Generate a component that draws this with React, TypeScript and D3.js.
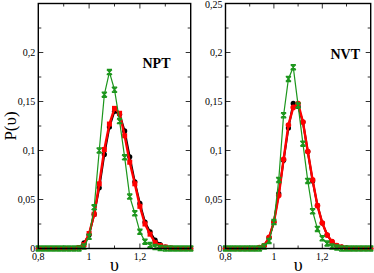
import React from 'react';
import * as d3 from 'd3';

// volume bins (nu)
const nu = [0.80, 0.82, 0.84, 0.86, 0.88, 0.90, 0.92, 0.94, 0.96, 0.98, 1.00, 1.02, 1.04, 1.06, 1.08, 1.10,
  1.12, 1.14, 1.16, 1.18, 1.20, 1.22, 1.24, 1.26, 1.28, 1.30, 1.32, 1.34, 1.36, 1.38, 1.40];

// NPT panel
const nptBlack = [0, 0, 0, 0, 0, 0, 0, 0, 0.001, 0.0057, 0.014, 0.035, 0.062, 0.096, 0.124, 0.140,
  0.137, 0.120, 0.0935, 0.068, 0.046, 0.027, 0.017, 0.0085, 0.004, 0.0015, 0.0005, 0, 0, 0, 0];
const nptRed = [0, 0, 0, 0, 0, 0, 0, 0, 0.001, 0.004, 0.0153, 0.035, 0.066, 0.101, 0.127, 0.143,
  0.138, 0.115, 0.088, 0.066, 0.043, 0.025, 0.0146, 0.006, 0.003, 0.0015, 0.0005, 0, 0, 0, 0];
const nptGreen = [0, 0, 0, 0, 0, 0, 0, 0, 0, 0.002, 0.012, 0.042, 0.100, 0.157, 0.180, 0.162,
  0.130, 0.093, 0.053, 0.036, 0.017, 0.007, 0.0035, 0.0015, 0.0005, 0, 0, 0, 0, 0, 0];

// NVT panel
const nvtBlack = [0, 0, 0, 0, 0, 0, 0, 0.001, 0.003, 0.011, 0.027, 0.056, 0.090, 0.123, 0.148, 0.145,
  0.129, 0.099, 0.069, 0.044, 0.026, 0.0138, 0.007, 0.003, 0.0015, 0.0005, 0, 0, 0, 0, 0];
const nvtRed = [0, 0, 0, 0, 0, 0, 0, 0.001, 0.003, 0.0114, 0.027, 0.054, 0.091, 0.126, 0.144, 0.148,
  0.129, 0.099, 0.070, 0.0437, 0.026, 0.0138, 0.007, 0.003, 0.0015, 0.0005, 0, 0, 0, 0, 0];
const nvtGreen = [0, 0, 0, 0, 0, 0, 0, 0, 0.002, 0.0077, 0.027, 0.070, 0.136, 0.173, 0.185, 0.146,
  0.107, 0.069, 0.038, 0.020, 0.0104, 0.005, 0.002, 0.001, 0, 0, 0, 0, 0, 0, 0];

const yMajor = [0, 0.05, 0.1, 0.15, 0.2, 0.25];
const yMinor = [0.025, 0.075, 0.125, 0.175, 0.225];
const xMajor = [0.8, 1.0, 1.2, 1.4];
const xMinor = [0.9, 1.1, 1.3];
const xLabels = [0.8, 1.0, 1.2];

const GREEN = '#1c961c';
const fmt = (v: number) => String(+v.toFixed(2)).replace('.', ',');

function Star({ x, y }: { x: number; y: number }) {
  const s = 2.6;
  return (
    <path
      d={`M${x - s},${y - s}L${x + s},${y + s}M${x + s},${y - s}L${x - s},${y + s}M${x - s},${y - s}L${x + s},${y - s}M${x - s},${y + s}L${x + s},${y + s}M${x},${y - s}L${x},${y + s}`}
      stroke={GREEN} strokeWidth={1.3} fill="none" />
  );
}

function Panel(props: any) {
  const { left, right, top, bottom, black, red, green, title, tx, ty, topLabel, redSquare } = props;
  const x = d3.scaleLinear().domain([0.8, 1.4]).range([left, right]);
  const y = d3.scaleLinear().domain([0, 0.25]).range([bottom, top]);
  const line = d3.line<number>().x((_, i) => x(nu[i])).y(d => y(d));
  const yLabels = topLabel ? yMajor : yMajor.slice(0, 5);

  return (
    <g fontFamily="'Liberation Serif', 'Times New Roman', serif">
      {/* ticks inside the frame */}
      {yMajor.slice(1, 5).map(v => (
        <g key={'ym' + v} stroke="#333" strokeWidth={1}>
          <line x1={left} x2={left + 5} y1={y(v)} y2={y(v)} />
          <line x1={right} x2={right - 5} y1={y(v)} y2={y(v)} />
        </g>
      ))}
      {yMinor.map(v => (
        <g key={'yn' + v} stroke="#333" strokeWidth={1}>
          <line x1={left} x2={left + 3} y1={y(v)} y2={y(v)} />
          <line x1={right} x2={right - 3} y1={y(v)} y2={y(v)} />
        </g>
      ))}
      {xMajor.slice(1, 3).map(v => (
        <g key={'xm' + v} stroke="#333" strokeWidth={1}>
          <line x1={x(v)} x2={x(v)} y1={bottom} y2={bottom - 5} />
          <line x1={x(v)} x2={x(v)} y1={top} y2={top + 5} />
        </g>
      ))}
      {xMinor.map(v => (
        <g key={'xn' + v} stroke="#333" strokeWidth={1}>
          <line x1={x(v)} x2={x(v)} y1={bottom} y2={bottom - 3} />
          <line x1={x(v)} x2={x(v)} y1={top} y2={top + 3} />
        </g>
      ))}

      {/* tick labels */}
      {yLabels.map(v => (
        <text key={'yl' + v} x={left - 3} y={v === 0.25 ? y(v) + 4.5 : y(v) + 3.3} fontSize={10} textAnchor="end">{fmt(v)}</text>
      ))}
      {xLabels.map(v => (
        <text key={'xl' + v} x={x(v)} y={259.5} fontSize={10} textAnchor="middle">{fmt(v)}</text>
      ))}
      <text x={(x(1.1))} y={270.5} fontSize={18} textAnchor="middle">υ</text>

      {/* series */}
      <path d={line(black) || ''} fill="none" stroke="#000" strokeWidth={2} />
      {black.map((d: number, i: number) => (
        <circle key={'b' + i} cx={x(nu[i])} cy={y(d)} r={2.6} fill="#000" />
      ))}
      <path d={line(red) || ''} fill="none" stroke="#ff0000" strokeWidth={2.4} />
      {red.map((d: number, i: number) => redSquare
        ? <rect key={'r' + i} x={x(nu[i]) - 2.5} y={y(d) - 2.5} width={5} height={5} fill="#ff0000" />
        : <circle key={'r' + i} cx={x(nu[i])} cy={y(d)} r={2.8} fill="#ff0000" />)}
      <path d={line(green) || ''} fill="none" stroke={GREEN} strokeWidth={1.2} />
      {green.map((d: number, i: number) => <Star key={'g' + i} x={x(nu[i])} y={y(d)} />)}

      <rect x={left} y={top} width={right - left} height={bottom - top} fill="none" stroke="#000" strokeWidth={1.4} />
      <text x={tx} y={ty} fontSize={14} fontWeight="bold">{title}</text>
    </g>
  );
}

export default function App() {
  return (
    <svg width={374} height={273} style={{ position: 'absolute', left: 0, top: 0, background: '#fff' }}>
      <Panel left={38.3} right={190.7} top={3.5} bottom={248.5} black={nptBlack} red={nptRed} green={nptGreen}
        title="NPT" tx={142.5} ty={67.5} topLabel={false} redSquare={true} />
      <Panel left={225.5} right={370.7} top={3.5} bottom={248.5} black={nvtBlack} red={nvtRed} green={nvtGreen}
        title="NVT" tx={330.5} ty={59.3} topLabel={true} redSquare={false} />
      <text transform="translate(15.5,126) rotate(-90)" fontSize={17} textAnchor="middle"
        fontFamily="'Liberation Serif', 'Times New Roman', serif">P(υ)</text>
    </svg>
  );
}
